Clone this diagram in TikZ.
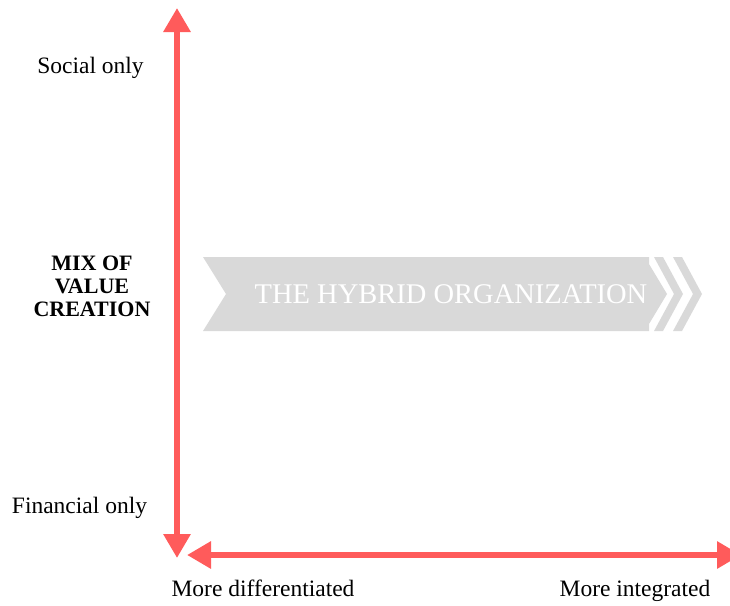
\documentclass[tikz,border=0pt]{standalone}
\usepackage{fontspec}
\setmainfont{Liberation Serif}[BoldFont={Liberation Serif Bold}]
\usetikzlibrary{arrows.meta}
\definecolor{axisred}{HTML}{FF5B5B}
\definecolor{bannergray}{HTML}{D9D9D9}
\begin{document}
\begin{tikzpicture}[
    x=1pt, y=-1pt,
    axis/.style={{Triangle[length=24pt, width=26pt]}-{Triangle[length=24pt, width=26pt]}, line width=6pt, axisred},
    axislabel/.style={font=\fontsize{23.5}{23}\selectfont, anchor=base},
    banner/.style={fill=bannergray, draw=none}
]
    \useasboundingbox (0,0) rectangle (730,605);
    % axes
    \coordinate (ytop) at (177,8);
    \coordinate (ybot) at (177,558);
    \coordinate (xleft) at (187,555);
    \coordinate (xright) at (741,555);
    \draw[axis] (ybot) -- (ytop);
    \draw[axis] (xleft) -- (xright);

    % banner
    \fill[banner] (203,257) -- (649,257) -- (649,264) -- (667,294) -- (649,324) -- (649,331) -- (203,331) -- (226,294) -- cycle;
    \foreach \dx in {0,19}
        \fill[banner, xshift=\dx] (654,257) -- (663,257) -- (683,294) -- (663,331) -- (654,331) -- (674,294) -- cycle;
    \node[font=\fontsize{28.5}{30}\selectfont, text=white, anchor=base] (hybrid) at (451,303) {THE HYBRID ORGANIZATION};

    % labels
    \node[axislabel] (social) at (90.5,73) {Social only};
    \node[axislabel] (financial) at (79.5,513) {Financial only};
    \node[axislabel] (differentiated) at (263,596) {More differentiated};
    \node[axislabel] (integrated) at (635,596) {More integrated};
    \node[axislabel, align=center, font=\fontsize{22}{23}\selectfont\bfseries] (mix) at (92,316) {MIX OF\\VALUE\\CREATION};
\end{tikzpicture}
\end{document}
